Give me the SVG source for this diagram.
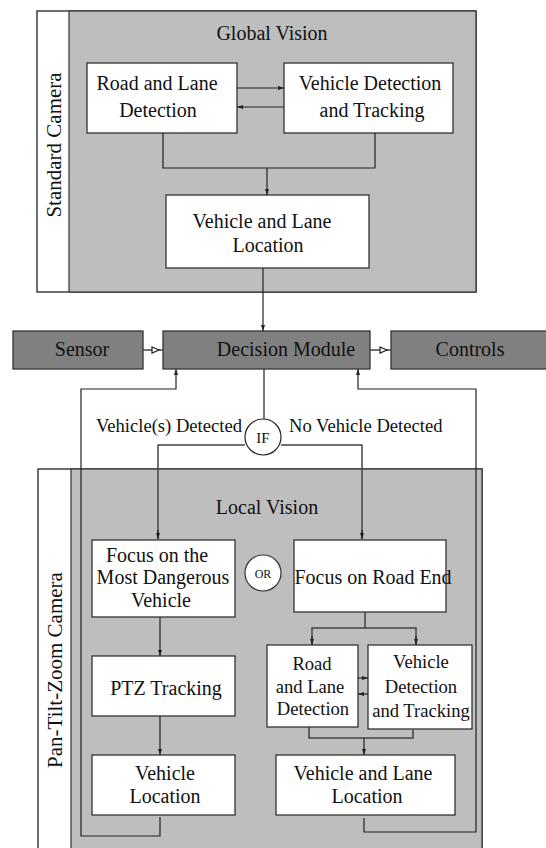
<svg xmlns="http://www.w3.org/2000/svg" width="546" height="848" viewBox="0 0 546 848">
<defs>
<style>
text{font-family:"Liberation Serif","Times New Roman",serif;fill:#111;text-anchor:middle}
.t{font-size:20px}
.s{font-size:18.6px}
.cam{font-size:21px}
.box{fill:#fff;stroke:#333;stroke-width:1.3}
.frame{fill:#fff;stroke:#222;stroke-width:1.3}
.panel{fill:#bebebe;stroke:#333;stroke-width:1.2}
.dark{fill:#808080;stroke:#333;stroke-width:1.3}
.ln{fill:none;stroke:#222;stroke-width:1.2}
.ln2{fill:none;stroke:#444;stroke-width:1.5}
</style>
<marker id="a" viewBox="0 0 6 6" refX="6" refY="3" markerWidth="6" markerHeight="6" markerUnits="userSpaceOnUse" orient="auto"><path d="M0,1 L6,3 L0,5 z" fill="#222"/></marker>
<marker id="h" viewBox="0 0 12 8" refX="12" refY="4" markerWidth="12" markerHeight="8" markerUnits="userSpaceOnUse" orient="auto"><path d="M1,1 L8,4 L1,7 z" fill="#fff" stroke="#222" stroke-width="1.2"/></marker>
</defs>

<g id="standard-camera">
<rect class="frame" x="37" y="11" width="439" height="281"/>
<rect class="panel" x="69" y="11" width="407" height="281"/>
<text class="cam" transform="translate(61,145) rotate(-90)">Standard Camera</text>
<text class="t" x="272" y="40">Global Vision</text>
</g>

<g id="ptz-camera">
<rect class="frame" x="38" y="469" width="444" height="390"/>
<rect class="panel" x="71" y="469" width="411" height="390"/>
<text class="cam" transform="translate(62,670) rotate(-90)">Pan-Tilt-Zoom Camera</text>
<text class="t" x="267" y="514">Local Vision</text>
</g>

<g id="road-lane-detection">
<rect class="box" x="87" y="63" width="150" height="70"/>
<text class="t" x="157" y="90">Road and Lane</text>
<text class="t" x="158" y="117">Detection</text>
</g>
<g id="vehicle-detection-tracking">
<rect class="box" x="284" y="63" width="169" height="70"/>
<text class="t" x="370" y="90">Vehicle Detection</text>
<text class="t" x="372" y="117">and Tracking</text>
</g>
<g id="vehicle-lane-location">
<rect class="box" x="166" y="195" width="203" height="73"/>
<text class="t" x="262" y="228">Vehicle and Lane</text>
<text class="t" x="268" y="252">Location</text>
</g>

<g id="sensor">
<rect class="dark" x="13" y="331" width="130" height="38"/>
<text class="t" x="82" y="356">Sensor</text>
</g>
<g id="decision-module">
<rect class="dark" x="163" y="331" width="207" height="38"/>
<text class="t" x="286" y="356">Decision Module</text>
</g>
<g id="controls">
<rect class="dark" x="391" y="331" width="160" height="38"/>
<text class="t" x="470" y="356">Controls</text>
</g>

<g id="if">
<circle cx="263" cy="437" r="18" fill="#fff" stroke="#222" stroke-width="1.2"/>
<text x="263" y="443" style="font-size:15px">IF</text>
</g>
<g id="labels">
<text class="s" x="242" y="432" style="text-anchor:end">Vehicle(s) Detected</text>
<text class="s" x="289" y="432" style="text-anchor:start">No Vehicle Detected</text>
</g>

<g id="focus-dangerous">
<rect class="box" x="92" y="540" width="143" height="77"/>
<text class="t" x="157" y="562">Focus on the</text>
<text class="t" x="163" y="584">Most Dangerous</text>
<text class="t" x="161" y="607">Vehicle</text>
</g>
<g id="or">
<circle cx="263" cy="573" r="18" fill="#fff" stroke="#333" stroke-width="1.2"/>
<text x="263" y="578" style="font-size:12px">OR</text>
</g>
<g id="focus-road-end">
<rect class="box" x="294" y="540" width="152" height="72"/>
<text class="t" x="373" y="584">Focus on Road End</text>
</g>
<g id="ptz-tracking">
<rect class="box" x="92" y="656" width="143" height="60"/>
<text class="t" x="166" y="695">PTZ Tracking</text>
</g>
<g id="vehicle-location">
<rect class="box" x="92" y="755" width="143" height="60"/>
<text class="t" x="165" y="780">Vehicle</text>
<text class="t" x="165" y="803">Location</text>
</g>
<g id="road-lane-detection-2">
<rect class="box" x="267" y="645" width="91" height="82"/>
<text class="s" x="312" y="670">Road</text>
<text class="s" x="310" y="693">and Lane</text>
<text class="s" x="313" y="715">Detection</text>
</g>
<g id="vehicle-detection-tracking-2">
<rect class="box" x="368" y="645" width="104" height="84"/>
<text class="s" x="421" y="668">Vehicle</text>
<text class="s" x="421" y="693">Detection</text>
<text class="s" x="421" y="717">and Tracking</text>
</g>
<g id="vehicle-lane-location-2">
<rect class="box" x="276" y="755" width="179" height="60"/>
<text class="t" x="363" y="780">Vehicle and Lane</text>
<text class="t" x="367" y="803">Location</text>
</g>

<g id="connectors">
<line class="ln" x1="237" y1="88" x2="284" y2="88" marker-end="url(#a)"/>
<line class="ln" x1="284" y1="107" x2="237" y2="107" marker-end="url(#a)"/>
<polyline class="ln" points="163,133 163,168 375,168 375,133"/>
<line class="ln" x1="267" y1="168" x2="267" y2="195" marker-end="url(#a)"/>
<line class="ln" x1="263" y1="268" x2="263" y2="331" marker-end="url(#a)"/>
<line class="ln2" x1="143" y1="350" x2="163" y2="350" marker-end="url(#h)"/>
<line class="ln2" x1="370" y1="350" x2="391" y2="350" marker-end="url(#h)"/>
<line class="ln" x1="264" y1="369" x2="264" y2="419"/>
<polyline class="ln2" points="158,539 158,445 245,445"/>
<polyline class="ln2" points="281,445 362,445 362,539"/>
<line class="ln" x1="158" y1="530" x2="158" y2="539" marker-end="url(#a)"/>
<line class="ln" x1="362" y1="530" x2="362" y2="539" marker-end="url(#a)"/>
<polyline class="ln" points="160,817 160,836 81,836 81,389 176,389 176,369" marker-end="url(#a)"/>
<polyline class="ln" points="364,818 364,832 476,832 476,389 358,389 358,369" marker-end="url(#a)"/>
<line class="ln" x1="160" y1="617" x2="160" y2="656" marker-end="url(#a)"/>
<line class="ln" x1="160" y1="716" x2="160" y2="755" marker-end="url(#a)"/>
<polyline class="ln2" points="365,612 365,628 312,628 312,644"/>
<polyline class="ln2" points="365,628 416,628 416,644"/>
<line class="ln" x1="312" y1="636" x2="312" y2="645" marker-end="url(#a)"/>
<line class="ln" x1="416" y1="636" x2="416" y2="645" marker-end="url(#a)"/>
<line class="ln" x1="358" y1="678" x2="368" y2="678" marker-end="url(#a)"/>
<line class="ln" x1="368" y1="694" x2="358" y2="694" marker-end="url(#a)"/>
<polyline class="ln2" points="309,727 309,738 413,738 413,729"/>
<line class="ln" x1="364" y1="738" x2="364" y2="755" marker-end="url(#a)"/>
</g>
</svg>
